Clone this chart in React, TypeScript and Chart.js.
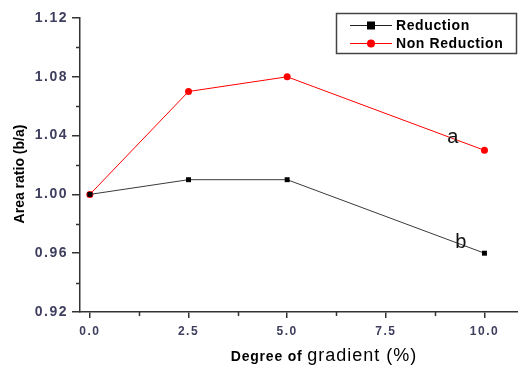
import React, { useEffect, useRef } from 'react';
import { Chart, registerables } from 'chart.js';

Chart.register(...registerables);

const xValues = [0, 2.5, 5, 10];
const reduction = [1.0, 1.01, 1.01, 0.96];
const nonReduction = [1.0, 1.07, 1.08, 1.03];
const seriesNames = ['Reduction', 'Non Reduction'];
const seriesColors = ['#222222', '#ff0000'];
const xMajorTicks = [0, 2.5, 5, 7.5, 10];
const xMinorTicks = [1.25, 3.75, 6.25, 8.75];
const yMajorTicks = [0.92, 0.96, 1.0, 1.04, 1.08, 1.12];
const yMinorTicks = [0.94, 0.98, 1.02, 1.06, 1.1];
const annotations = [
  { text: 'a', x: 9.2, y: 1.039 },
  { text: 'b', x: 9.4, y: 0.967 },
];
const xTitleBold = 'Degree of';
const xTitleRegular = 'gradient (%)';
const yTitle = 'Area ratio (b/a)';

const AXIS_COLOR = '#333333';
const TICK_COLOR = '#3e3e5e';

const customPlugin = {
  id: 'custom',
  beforeDraw(chart: any) {
    chart.ctx.letterSpacing = '1.5px';
  },
  afterDraw(chart: any) {
    const ctx = chart.ctx as CanvasRenderingContext2D;
    const xs = chart.scales.x;
    const ys = chart.scales.y;
    const area = chart.chartArea;
    ctx.save();
    ctx.letterSpacing = '0px';
    // minor ticks
    ctx.strokeStyle = AXIS_COLOR;
    ctx.lineWidth = 1.5;
    ctx.beginPath();
    yMinorTicks.forEach((v) => {
      const py = Math.round(ys.getPixelForValue(v)) + 0.5;
      ctx.moveTo(area.left - 4, py);
      ctx.lineTo(area.left, py);
    });
    xMinorTicks.forEach((v) => {
      const px = Math.round(xs.getPixelForValue(v)) + 0.5;
      ctx.moveTo(px, area.bottom);
      ctx.lineTo(px, area.bottom + 4);
    });
    ctx.stroke();

    // annotations
    ctx.fillStyle = '#111';
    ctx.font = '20px Arial, "Liberation Sans", sans-serif';
    ctx.textAlign = 'center';
    ctx.textBaseline = 'middle';
    annotations.forEach((a) => {
      ctx.fillText(a.text, xs.getPixelForValue(a.x), ys.getPixelForValue(a.y));
    });

    // y title
    ctx.save();
    ctx.translate(20, 174);
    ctx.rotate(-Math.PI / 2);
    ctx.font = 'bold 14px Arial, "Liberation Sans", sans-serif';
    ctx.fillStyle = '#000';
    ctx.textAlign = 'center';
    ctx.textBaseline = 'middle';
    ctx.fillText(yTitle, 0, 0);
    ctx.restore();

    // x title (mixed fonts)
    ctx.textBaseline = 'alphabetic';
    ctx.textAlign = 'left';
    ctx.fillStyle = '#000';
    ctx.font = 'bold 14px Arial, "Liberation Sans", sans-serif';
    ctx.letterSpacing = '0.8px';
    const w1 = ctx.measureText(xTitleBold + ' ').width;
    ctx.font = '18px Arial, "Liberation Sans", sans-serif';
    ctx.letterSpacing = '1px';
    const w2 = ctx.measureText(xTitleRegular).width;
    const startX = 324 - (w1 + w2) / 2;
    ctx.font = 'bold 14px Arial, "Liberation Sans", sans-serif';
    ctx.letterSpacing = '0.8px';
    ctx.fillText(xTitleBold + ' ', startX, 361);
    ctx.font = '18px Arial, "Liberation Sans", sans-serif';
    ctx.letterSpacing = '1px';
    ctx.fillText(xTitleRegular, startX + w1, 361);

    // legend
    ctx.letterSpacing = '0.6px';
    ctx.strokeStyle = '#444';
    ctx.lineWidth = 1.5;
    ctx.strokeRect(336.5, 13.5, 180, 40);
    const rows = [25, 43];
    seriesNames.forEach((name, i) => {
      const y = rows[i];
      ctx.strokeStyle = seriesColors[i];
      ctx.lineWidth = 1;
      ctx.beginPath();
      ctx.moveTo(350, y + 0.5);
      ctx.lineTo(392, y + 0.5);
      ctx.stroke();
      ctx.fillStyle = i === 0 ? '#000' : '#ff0000';
      if (i === 0) {
        ctx.fillRect(367, y - 3.5, 8, 8);
      } else {
        ctx.beginPath();
        ctx.arc(371, y + 0.5, 4, 0, Math.PI * 2);
        ctx.fill();
      }
      ctx.fillStyle = '#000';
      ctx.font = 'bold 14px Arial, "Liberation Sans", sans-serif';
      ctx.textAlign = 'left';
      ctx.textBaseline = 'middle';
      ctx.fillText(name, 396, y + 1);
    });
    ctx.restore();
  },
};

export default function App() {
  const ref = useRef<HTMLCanvasElement | null>(null);
  useEffect(() => {
    if (!ref.current) return;
    const chart = new Chart(ref.current, {
      type: 'line',
      data: {
        datasets: [
          {
            label: seriesNames[0],
            data: xValues.map((x, i) => ({ x, y: reduction[i] })),
            borderColor: '#3a3a3a',
            backgroundColor: '#000',
            borderWidth: 1,
            pointStyle: 'rect',
            pointRadius: 3.5,
            pointBorderWidth: 0,
          },
          {
            label: seriesNames[1],
            data: xValues.map((x, i) => ({ x, y: nonReduction[i] })),
            borderColor: '#ff0000',
            backgroundColor: '#ff0000',
            borderWidth: 1,
            pointStyle: 'circle',
            pointRadius: 3.5,
            pointBorderWidth: 0,
          },
        ],
      },
      options: {
        animation: false,
        responsive: true,
        maintainAspectRatio: false,
        layout: { padding: { top: 18, right: 0, left: 0, bottom: 0 }, autoPadding: false },
        plugins: { legend: { display: false }, tooltip: { enabled: false } },
        scales: {
          x: {
            type: 'linear',
            min: -0.25,
            max: 10.85,
            afterBuildTicks: (axis: any) => {
              axis.ticks = xMajorTicks.map((v) => ({ value: v }));
            },
            afterFit: (scale: any) => {
              scale.height = 53;
            },
            grid: { drawOnChartArea: false, tickLength: 6, color: AXIS_COLOR, lineWidth: 1.5 },
            border: { color: AXIS_COLOR, width: 1.5 },
            ticks: {
              callback: (v: any) => Number(v).toFixed(1),
              color: TICK_COLOR,
              font: { family: 'Arial, "Liberation Sans", sans-serif', size: 12, weight: 'bold' },
              padding: 6,
              maxRotation: 0,
              autoSkip: false,
            },
          },
          y: {
            type: 'linear',
            min: 0.92,
            max: 1.12,
            afterBuildTicks: (axis: any) => {
              axis.ticks = yMajorTicks.map((v) => ({ value: v }));
            },
            afterFit: (scale: any) => {
              scale.width = 80;
            },
            grid: { drawOnChartArea: false, tickLength: 8, color: AXIS_COLOR, lineWidth: 1.5 },
            border: { color: AXIS_COLOR, width: 1.5 },
            ticks: {
              callback: (v: any) => Number(v).toFixed(2),
              color: TICK_COLOR,
              font: { family: 'Arial, "Liberation Sans", sans-serif', size: 14, weight: 'bold' },
              padding: 4,
              autoSkip: false,
            },
          },
        },
      },
      plugins: [customPlugin],
    });
    return () => chart.destroy();
  }, []);
  return (
    <div style={{ position: 'fixed', left: 0, top: 0, width: 518, height: 365, background: '#fff' }}>
      <canvas ref={ref} />
    </div>
  );
}
